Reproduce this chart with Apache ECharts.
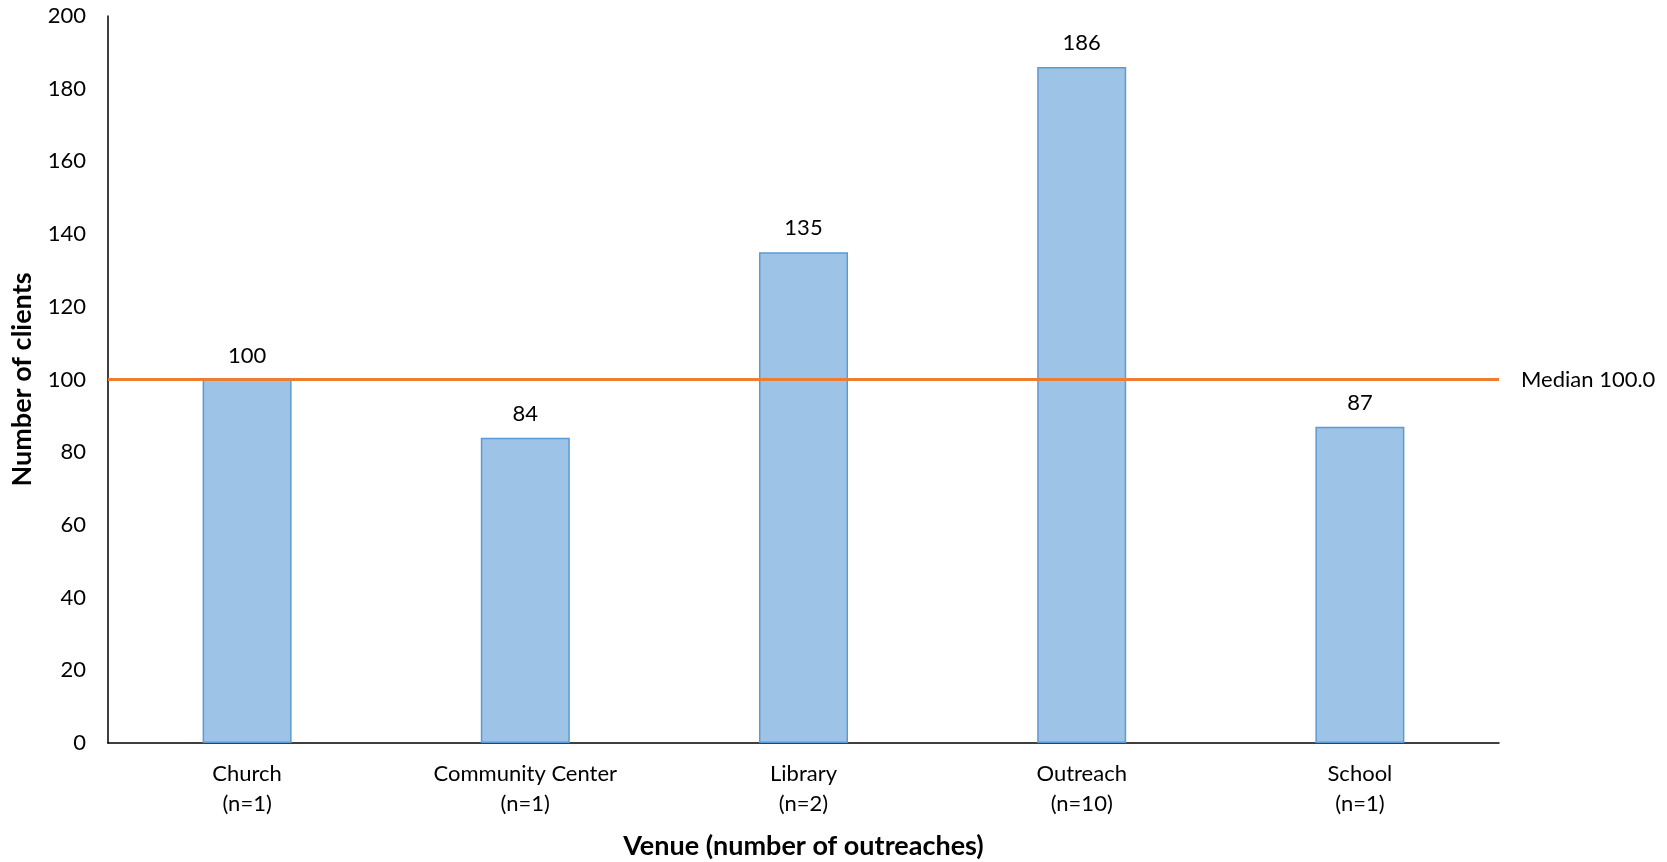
<!DOCTYPE html>
<html><head><meta charset="utf-8">
<script src="https://cdn.jsdelivr.net/npm/echarts@6/dist/echarts.min.js"></script>
<style>html,body{margin:0;padding:0;background:#fff}#c{width:1667px;height:862px}</style>
</head><body><div id="c"></div>
<script>
const categories = ['Church\n(n=1)', 'Community Center\n(n=1)', 'Library\n(n=2)', 'Outreach\n(n=10)', 'School\n(n=1)'];
const clients = [100, 84, 135, 186, 87];
const median = 100;
const yTicks = {min: 0, max: 200, interval: 20};

const font = 'Lato, "Open Sans", sans-serif';
const chart = echarts.init(document.getElementById('c'));
chart.setOption({
  backgroundColor: '#fff',
  animation: false,
  grid: {left: 108, right: 168, top: 16, bottom: 119, containLabel: false, outerBoundsMode: 'none'},
  xAxis: {
    type: 'category', data: categories,
    axisLine: {lineStyle: {color: '#000', width: 1.5}},
    axisTick: {show: false},
    axisLabel: {color: '#000', fontFamily: font, fontSize: 22, lineHeight: 30, margin: 16},
    name: 'Venue (number of outreaches)', nameLocation: 'middle', nameGap: 90,
    nameTextStyle: {color: '#000', fontFamily: font, fontSize: 27, fontWeight: 'bold'}
  },
  yAxis: {
    type: 'value', min: yTicks.min, max: yTicks.max, interval: yTicks.interval,
    axisLine: {show: true, lineStyle: {color: '#000', width: 1.5}},
    axisTick: {show: false},
    splitLine: {show: false},
    axisLabel: {color: '#000', fontFamily: font, fontSize: 22, margin: 22},
    name: 'Number of clients', nameLocation: 'middle', nameGap: 72,
    nameTextStyle: {color: '#000', fontFamily: font, fontSize: 27, fontWeight: 'bold'}
  },
  series: [{
    type: 'bar', data: clients, barWidth: 89,
    itemStyle: {color: '#9DC3E6', borderColor: '#5B9BD5', borderWidth: 1.5},
    label: {show: true, position: 'top', distance: 13, color: '#000', fontFamily: font, fontSize: 22},
    markLine: {
      symbol: 'none', silent: true,
      lineStyle: {color: '#ED7D31', width: 3, type: 'solid'},
      label: {show: true, position: 'end', distance: 22, formatter: 'Median ' + median.toFixed(1),
              color: '#000', fontFamily: font, fontSize: 22},
      data: [{yAxis: median}]
    }
  }]
});
</script></body></html>
